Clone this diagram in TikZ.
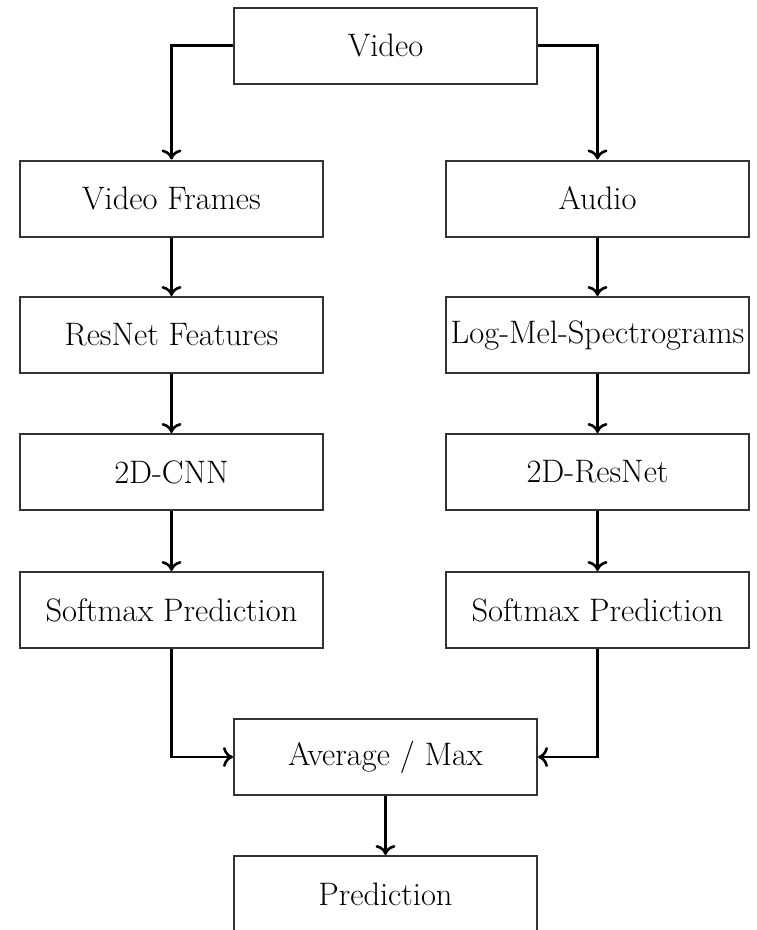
\documentclass[tikz,border=0pt]{standalone}
\usetikzlibrary{arrows.meta}
\begin{document}
\begin{tikzpicture}[x=1pt,y=-1pt,
  box/.style={draw=black!80, line width=2pt, minimum width=303pt, minimum height=76pt,
    inner sep=0pt, font=\fontsize{32.5}{38}\selectfont},
  conn/.style={line width=2.6pt, -{To[length=10pt,width=20pt]}}]
\useasboundingbox (0,0) rectangle (756,930);
\node[box] (video) at (385.5,45.5) {Video};
\node[box] (vf) at (171.5,198.5) {Video Frames};
\node[box] (audio) at (597.5,198.5) {Audio};
\node[box] (rn) at (171.5,335) {ResNet Features};
\node[box] (lm) at (597.5,335) {Log-Mel-Spectrograms};
\node[box] (cnn) at (171.5,472) {2D-CNN};
\node[box] (res) at (597.5,472) {2D-ResNet};
\node[box] (sl) at (171.5,610) {Softmax Prediction};
\node[box] (sr) at (597.5,610) {Softmax Prediction};
\node[box] (avg) at (385.5,757) {Average / Max};
\node[box] (pred) at (385.5,894) {Prediction};
\draw[conn] (video.west) -| (vf.north);
\draw[conn] (video.east) -| (audio.north);
\draw[conn] (vf.south) -- (rn.north);
\draw[conn] (audio.south) -- (lm.north);
\draw[conn] (rn.south) -- (cnn.north);
\draw[conn] (lm.south) -- (res.north);
\draw[conn] (cnn.south) -- (sl.north);
\draw[conn] (res.south) -- (sr.north);
\draw[conn] (sl.south) |- (avg.west);
\draw[conn] (sr.south) |- (avg.east);
\draw[conn] (avg.south) -- (pred.north);
\end{tikzpicture}
\end{document}
